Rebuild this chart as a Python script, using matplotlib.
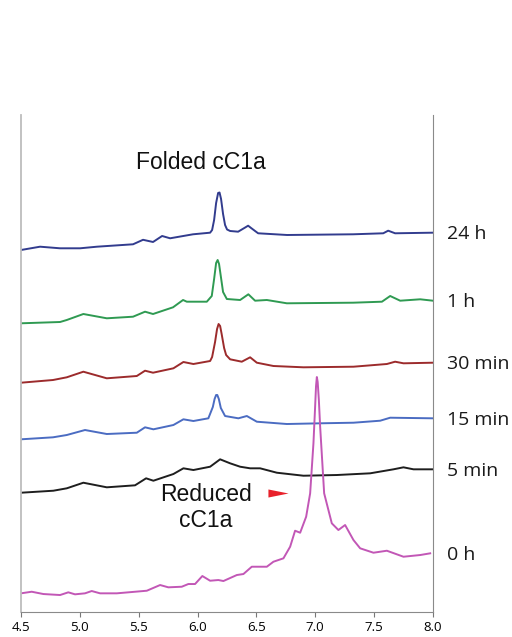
import matplotlib
matplotlib.use("Agg")
import matplotlib.pyplot as plt

# retention time (min) and signal above each trace's own baseline
t_24h = [4.500, 4.662, 4.832, 5.002, 5.146, 5.452, 5.537, 5.622, 5.699, 5.767, 5.962,
         6.107, 6.124, 6.141, 6.158, 6.175, 6.187, 6.200, 6.217, 6.234, 6.251, 6.277,
         6.345, 6.405, 6.430, 6.455, 6.515, 6.761, 7.322, 7.578, 7.620, 7.679, 8.000]
s_24h = [0, 3.3, 1.7, 1.7, 3.3, 5.7, 10.2, 8, 14, 11.7, 15.7,
         17.3, 20, 30, 47, 57, 57.5, 51, 36, 25, 20.5, 19,
         18.3, 22.5, 24.3, 22, 16.7, 15, 15.7, 16.7, 19.3, 16.7, 17.3]

t_1h = [4.500, 4.832, 4.889, 5.030, 5.229, 5.452, 5.554, 5.622, 5.792, 5.877, 5.909,
        6.079, 6.121, 6.141, 6.158, 6.171, 6.183, 6.200, 6.217, 6.249, 6.362, 6.432,
        6.489, 6.589, 6.759, 7.322, 7.567, 7.637, 7.722, 7.892, 8.000]
s_1h = [-0.3, 1, 3, 9, 4.7, 6.3, 11.3, 9, 15.7, 23, 21.3,
        21.3, 27, 44, 60, 63, 59, 45, 31, 24, 23, 28.7,
        22.3, 23, 19.7, 20.3, 21.3, 27, 22.3, 23.7, 22.3]

t_30m = [4.500, 4.772, 4.889, 5.030, 5.229, 5.484, 5.554, 5.622, 5.795, 5.880, 5.965,
         6.107, 6.124, 6.149, 6.166, 6.179, 6.192, 6.205, 6.226, 6.243, 6.277, 6.376,
         6.447, 6.504, 6.645, 6.900, 7.325, 7.609, 7.679, 7.750, 8.000]
s_30m = [0.3, 3, 5.7, 11.3, 4.7, 7, 12.3, 10.3, 14.7, 21, 19,
         22, 26, 41, 54, 59, 57, 49, 35, 28, 23.7, 21.3,
         25.7, 20.3, 17, 15.7, 16.3, 19, 21.3, 19.7, 20.3]

t_15m = [4.500, 4.772, 4.889, 5.044, 5.229, 5.484, 5.554, 5.625, 5.795, 5.880, 5.965,
         6.092, 6.130, 6.145, 6.158, 6.168, 6.181, 6.198, 6.234, 6.347, 6.419, 6.504,
         6.759, 7.042, 7.325, 7.552, 7.637, 8.000]
s_15m = [-0.3, 1.7, 4, 9, 5, 6.3, 11.7, 9.7, 14, 19.7, 18,
         20.7, 32, 40, 44, 44, 40, 31, 23, 20.7, 23, 17.3,
         15, 15.7, 16.3, 18.3, 21.3, 20.7]

t_5m = [4.500, 4.775, 4.889, 5.030, 5.229, 5.469, 5.563, 5.625, 5.795, 5.880, 5.965,
        6.107, 6.192, 6.277, 6.362, 6.447, 6.532, 6.674, 6.900, 7.184, 7.467, 7.665,
        7.750, 7.835, 8.000]
s_5m = [0.3, 2.3, 4.7, 10.3, 5.7, 7.7, 14.7, 12.3, 19, 24.7, 23,
        26.3, 33.7, 29.7, 26.3, 24.7, 24.7, 20.3, 17.3, 18, 19.7, 23.7,
        25.7, 23.7, 23.7]

t_0h = [4.500, 4.591, 4.690, 4.832, 4.902, 4.959, 5.044, 5.101, 5.172, 5.314, 5.569,
        5.682, 5.752, 5.866, 5.922, 5.979, 6.041, 6.107, 6.177, 6.220, 6.334, 6.390,
        6.461, 6.589, 6.645, 6.730, 6.787, 6.829, 6.872, 6.923, 6.957, 6.985, 6.998,
        7.007, 7.014, 7.021, 7.031, 7.042, 7.076, 7.141, 7.197, 7.254, 7.325, 7.382,
        7.495, 7.609, 7.750, 7.892, 7.977]
s_0h = [-0.3, 1.3, -1, -2, 0.7, -1.3, -0.3, 2, -0.3, -0.3, 2.3,
        8, 5.7, 6.3, 9, 9, 17, 12.3, 13, 12, 18, 19,
        26.3, 26.3, 31.3, 34.7, 46.3, 62.3, 60.3, 76.3, 99.7, 149.7, 183,
        207, 216, 211, 193, 166.3, 99.7, 69.7, 63, 68, 53, 44.7,
        40.3, 42.3, 36.3, 38, 39.7]

labels = ["24 h", "1 h", "30 min", "15 min", "5 min", "0 h"]
offsets = [362, 289, 229, 173, 119, 19]
colors = ["#323c8e", "#2f9a52", "#9c2b2c", "#4b6cc2", "#1e1e1e", "#c257b6"]
times = [t_24h, t_1h, t_30m, t_15m, t_5m, t_0h]
signals = [s_24h, s_1h, s_30m, s_15m, s_5m, s_0h]

fig = plt.figure(figsize=(5.12, 6.37), dpi=100)
ax = fig.add_axes([0.041, 0.0392, 0.8045, 0.7803])

for t, s, off, col, lab in zip(times, signals, offsets, colors, labels):
    y = [v + off for v in s]
    ax.plot(t, y, color=col, lw=1.4, solid_joinstyle="round")
    ax.text(1.034, y[-1] - 1.5, lab, transform=ax.get_yaxis_transform(),
            ha="left", va="center", fontsize=14, family="Open Sans", color="#1a1a1a")

ax.text(6.028, 449, "Folded cC1a", ha="center", va="center",
        fontsize=16.5, family="Liberation Sans", color="#111111")
ax.text(6.071, 104.7, "Reduced\ncC1a", ha="center", va="center",
        fontsize=16.5, family="Liberation Sans", color="#111111", linespacing=1.2)
ax.plot([6.688], [119.3], marker=[(-1, -0.4), (1, 0), (-1, 0.4)],
        markersize=14.5, color="#e8212b", mec="none", ls="none")

ax.set_xlim(4.5, 8.0)
ax.set_ylim(0, 497)
ax.set_xticks([4.5, 5.0, 5.5, 6.0, 6.5, 7.0, 7.5, 8.0])
ax.set_xticklabels(["4.5", "5.0", "5.5", "6.0", "6.5", "7.0", "7.5", "8.0"],
                   family="Open Sans", fontsize=9.5)
ax.set_yticks([])
ax.tick_params(axis="x", direction="out", length=3.6, width=0.8, color="#777777", pad=3)

ax.spines["top"].set_visible(False)
ax.spines["left"].set_color("#bdbdbd")
ax.spines["left"].set_linewidth(1.3)
ax.spines["right"].set_color("#8a8a8a")
ax.spines["right"].set_linewidth(0.8)
ax.spines["bottom"].set_color("#8a8a8a")
ax.spines["bottom"].set_linewidth(0.8)

fig.savefig("out.png", dpi=100)
